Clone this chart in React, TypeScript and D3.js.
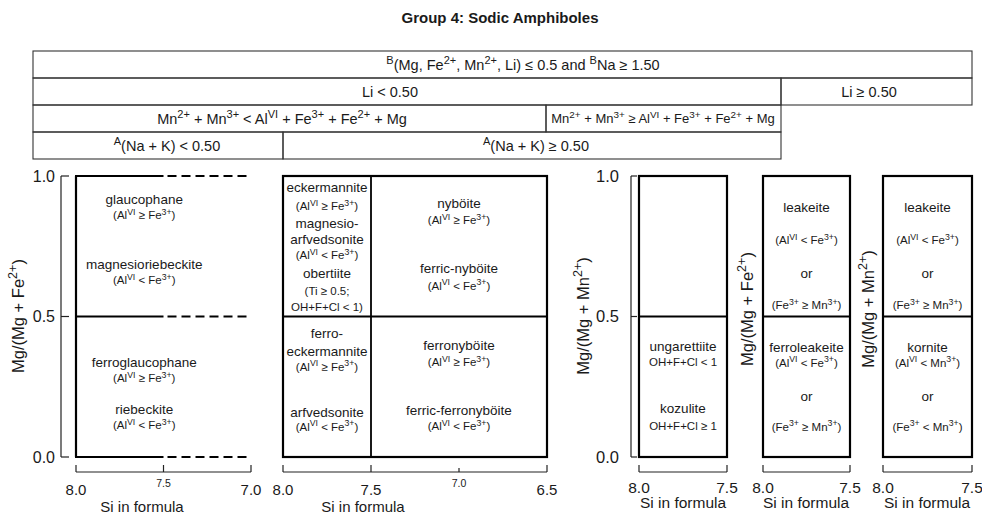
import React, { useEffect, useRef } from 'react';
import * as d3 from 'd3';

const title = 'Group 4: Sodic Amphiboles';

// classification conditions, one list per header row
const headerRow1 = ['^{B}(Mg, Fe^{2+}, Mn^{2+}, Li) ≤ 0.5 and ^{B}Na ≥ 1.50'];
const headerRow2 = ['Li < 0.50', 'Li ≥ 0.50'];
const headerRow3 = [
  'Mn^{2+} + Mn^{3+} < Al^{VI} + Fe^{3+} + Fe^{2+} + Mg',
  'Mn^{2+} + Mn^{3+} ≥ Al^{VI} + Fe^{3+} + Fe^{2+} + Mg',
];
const headerRow4 = ['^{A}(Na + K) < 0.50', '^{A}(Na + K) ≥ 0.50'];

// panels
const yTicks = [0.0, 0.5, 1.0];
const siDomains = [[8.0, 7.0], [8.0, 6.5], [8.0, 7.5], [8.0, 7.5], [8.0, 7.5]];
const siTicks = [[8.0, 7.5, 7.0], [8.0, 7.5, 7.0, 6.5], [8.0, 7.5], [8.0, 7.5], [8.0, 7.5]];
const siMinorTicks = [[7.5], [7.0], [], [], []];
const yTitles = ['Mg/(Mg + Fe^{2+})', '', 'Mg/(Mg + Mn^{2+})', 'Mg/(Mg + Fe^{2+})', 'Mg/(Mg + Mn^{2+})'];
const hasYAxis = [true, false, true, false, false];
const xTitle = 'Si in formula';
const splitSi = [[], [7.5], [], [], []];
const splitRatio = [0.5];
const openFromSi = 7.5; // panel 1 field stays open (dashed) past this Si

type Label = [number, number, string];

const panel1Labels: Label[] = [
  [7.61, 0.918, 'glaucophane'],
  [7.61, 0.861, '(Al^{VI} ≥ Fe^{3+})'],
  [7.61, 0.687, 'magnesioriebeckite'],
  [7.61, 0.63, '(Al^{VI} < Fe^{3+})'],
  [7.61, 0.338, 'ferroglaucophane'],
  [7.61, 0.281, '(Al^{VI} ≥ Fe^{3+})'],
  [7.61, 0.171, 'riebeckite'],
  [7.61, 0.114, '(Al^{VI} < Fe^{3+})'],
];

const panel2Labels: Label[] = [
  [7.75, 0.961, 'eckermannite'],
  [7.75, 0.893, '(Al^{VI} ≥ Fe^{3+})'],
  [7.75, 0.833, 'magnesio-'],
  [7.75, 0.776, 'arfvedsonite'],
  [7.75, 0.719, '(Al^{VI} < Fe^{3+})'],
  [7.75, 0.655, 'obertiite'],
  [7.75, 0.591, '(Ti ≥ 0.5;'],
  [7.75, 0.534, 'OH+F+Cl < 1)'],
  [7.75, 0.441, 'ferro-'],
  [7.75, 0.377, 'eckermannite'],
  [7.75, 0.322, '(Al^{VI} ≥ Fe^{3+})'],
  [7.75, 0.16, 'arfvedsonite'],
  [7.75, 0.107, '(Al^{VI} < Fe^{3+})'],
  [7.0, 0.904, 'nyböite'],
  [7.0, 0.843, '(Al^{VI} ≥ Fe^{3+})'],
  [7.0, 0.673, 'ferric-nyböite'],
  [7.0, 0.609, '(Al^{VI} < Fe^{3+})'],
  [7.0, 0.399, 'ferronyböite'],
  [7.0, 0.338, '(Al^{VI} ≥ Fe^{3+})'],
  [7.0, 0.167, 'ferric-ferronyböite'],
  [7.0, 0.11, '(Al^{VI} < Fe^{3+})'],
];

const panel3Labels: Label[] = [
  [7.75, 0.395, 'ungarettiite'],
  [7.75, 0.338, 'OH+F+Cl < 1'],
  [7.75, 0.174, 'kozulite'],
  [7.75, 0.11, 'OH+F+Cl ≥ 1'],
];

const panel4Labels: Label[] = [
  [7.75, 0.89, 'leakeite'],
  [7.75, 0.772, '(Al^{VI} < Fe^{3+})'],
  [7.75, 0.655, 'or'],
  [7.75, 0.541, '(Fe^{3+} ≥ Mn^{3+})'],
  [7.75, 0.391, 'ferroleakeite'],
  [7.75, 0.335, '(Al^{VI} < Fe^{3+})'],
  [7.75, 0.217, 'or'],
  [7.75, 0.107, '(Fe^{3+} ≥ Mn^{3+})'],
];

const panel5Labels: Label[] = [
  [7.75, 0.89, 'leakeite'],
  [7.75, 0.772, '(Al^{VI} < Fe^{3+})'],
  [7.75, 0.655, 'or'],
  [7.75, 0.541, '(Fe^{3+} ≥ Mn^{3+})'],
  [7.75, 0.391, 'kornite'],
  [7.75, 0.335, '(Al^{VI} < Mn^{3+})'],
  [7.75, 0.217, 'or'],
  [7.75, 0.107, '(Fe^{3+} <  Mn^{3+})'],
];

const panelLabels = [panel1Labels, panel2Labels, panel3Labels, panel4Labels, panel5Labels];

// layout
const FONT = '"Liberation Sans", Arial, Helvetica, sans-serif';
const INK = '#1a1a1a';
const headerRowY = [51, 78, 105, 132, 159];
const headerCellX = [[[33, 972]], [[33, 781], [781, 972]], [[33, 546], [546, 781]], [[33, 283], [283, 781]]];
const headerTextX = [[523], [390, 869], [282, 663], [167, 536]];
const headerFont = [[14.5], [14.5, 14.5], [14.5, 13], [14.5, 14.5]];
const panelX = [[76, 251], [283, 547], [639, 727], [763, 850], [883, 972]];
const yAxisX = [61, 0, 631, 0, 0];
const yTickLabelX = [55, 0, 619, 0, 0];
const yTitleX = [18, 0, 583, 747, 868];
const xTitleX = [142, 363, 683, 806, 927];
const axisFont = [15, 15, 15.5, 15.5, 15.5];
const xTickLabelY = [490, 490, 487, 487, 487];
const xTitleY = [506.5, 506.5, 502.5, 502.5, 502.5];
const bracketY = 472;

function rich(text: any, str: string, size: number) {
  const parts = str.split(/(\^\{[^}]*\})/).filter(Boolean);
  const shift = size * 0.4;
  let raised = false;
  parts.forEach((p) => {
    const sup = p.startsWith('^{');
    const t = text.append('tspan').text(sup ? p.slice(2, -1) : p);
    if (sup) {
      t.attr('font-size', size * 0.76);
      if (!raised) t.attr('dy', -shift);
      raised = true;
    } else {
      if (raised) t.attr('dy', shift);
      raised = false;
    }
  });
}

export default function App() {
  const svgRef = useRef<SVGSVGElement>(null);

  useEffect(() => {
    if (!svgRef.current) return;
    const svg = d3.select(svgRef.current);
    svg.selectAll('*').remove();
    svg.attr('font-family', FONT);

    svg.append('text')
      .attr('x', 500)
      .attr('y', 23)
      .attr('text-anchor', 'middle')
      .attr('font-size', 15)
      .attr('font-weight', 'bold')
      .attr('fill', INK)
      .text(title);

    // header table
    const header = [headerRow1, headerRow2, headerRow3, headerRow4];
    header.forEach((row, i) => {
      const y0 = headerRowY[i];
      const y1 = headerRowY[i + 1];
      row.forEach((cell, j) => {
        const [x0, x1] = headerCellX[i][j];
        svg.append('rect')
          .attr('x', x0).attr('y', y0)
          .attr('width', x1 - x0).attr('height', y1 - y0)
          .attr('fill', 'none').attr('stroke', '#333').attr('stroke-width', 1.1);
        const fs = headerFont[i][j];
        const t = svg.append('text')
          .attr('x', headerTextX[i][j])
          .attr('y', (y0 + y1) / 2 + fs * 0.36)
          .attr('text-anchor', 'middle')
          .attr('font-size', fs)
          .attr('fill', INK);
        rich(t, cell, fs);
      });
    });

    const y = d3.scaleLinear().domain([0, 1]).range([457, 176]);

    siDomains.forEach((dom, p) => {
      const x = d3.scaleLinear().domain(dom).range(panelX[p]);
      const g = svg.append('g');
      const fs = axisFont[p];

      // field boundaries
      if (p === 0) {
        g.append('line')
          .attr('x1', x(dom[0])).attr('x2', x(dom[0]))
          .attr('y1', y(0)).attr('y2', y(1))
          .attr('stroke', '#000').attr('stroke-width', 2.2);
        [0, ...splitRatio, 1].forEach((r) => {
          g.append('line')
            .attr('x1', x(dom[0]) - 1).attr('x2', x(openFromSi))
            .attr('y1', y(r)).attr('y2', y(r))
            .attr('stroke', '#000').attr('stroke-width', 2.2);
          g.append('line')
            .attr('x1', x(openFromSi) + 4).attr('x2', x(dom[1]))
            .attr('y1', y(r)).attr('y2', y(r))
            .attr('stroke', '#000').attr('stroke-width', 2.2)
            .attr('stroke-dasharray', '9,5');
        });
      } else {
        g.append('rect')
          .attr('x', x(dom[0])).attr('y', y(1))
          .attr('width', x(dom[1]) - x(dom[0])).attr('height', y(0) - y(1))
          .attr('fill', 'none').attr('stroke', '#000').attr('stroke-width', 2.2);
        splitRatio.forEach((r) => {
          g.append('line')
            .attr('x1', x(dom[0])).attr('x2', x(dom[1]))
            .attr('y1', y(r)).attr('y2', y(r))
            .attr('stroke', '#000').attr('stroke-width', 1.8);
        });
        splitSi[p].forEach((s) => {
          g.append('line')
            .attr('x1', x(s)).attr('x2', x(s))
            .attr('y1', y(0)).attr('y2', y(1))
            .attr('stroke', '#000').attr('stroke-width', 1.8);
        });
      }

      // field labels
      panelLabels[p].forEach(([si, r, txt]) => {
        const note = /^(\(|OH)/.test(txt);
        const size = note ? 11.5 : 13.5;
        const t = g.append('text')
          .attr('x', x(si))
          .attr('y', y(r) + size * 0.36)
          .attr('text-anchor', 'middle')
          .attr('font-size', size)
          .attr('fill', INK);
        rich(t, txt, size);
      });

      // Si bracket axis
      g.append('line')
        .attr('x1', x(dom[0])).attr('x2', x(dom[1]))
        .attr('y1', bracketY).attr('y2', bracketY)
        .attr('stroke', '#222').attr('stroke-width', 1.2);
      siTicks[p].forEach((s) => {
        const minor = siMinorTicks[p].includes(s);
        g.append('line')
          .attr('x1', x(s)).attr('x2', x(s))
          .attr('y1', bracketY).attr('y2', bracketY - (minor && p === 1 ? 4 : 7))
          .attr('stroke', '#222').attr('stroke-width', 1.2);
        g.append('text')
          .attr('x', x(s))
          .attr('y', minor ? xTickLabelY[p] - 3 : xTickLabelY[p] + fs * 0.36)
          .attr('text-anchor', 'middle')
          .attr('font-size', minor ? 10.5 : fs)
          .attr('fill', INK)
          .text(s.toFixed(1));
      });
      g.append('text')
        .attr('x', xTitleX[p])
        .attr('y', xTitleY[p] + fs * 0.36)
        .attr('text-anchor', 'middle')
        .attr('font-size', fs)
        .attr('fill', INK)
        .text(xTitle);

      // ratio bracket axis
      if (hasYAxis[p]) {
        const ax = yAxisX[p];
        g.append('line')
          .attr('x1', ax).attr('x2', ax)
          .attr('y1', y(0)).attr('y2', y(1))
          .attr('stroke', '#222').attr('stroke-width', 1.2);
        yTicks.forEach((r) => {
          g.append('line')
            .attr('x1', ax).attr('x2', ax + (p === 0 ? 8 : 6))
            .attr('y1', y(r)).attr('y2', y(r))
            .attr('stroke', '#222').attr('stroke-width', 1.2);
          g.append('text')
            .attr('x', yTickLabelX[p])
            .attr('y', y(r) + (fs + 1) * 0.36)
            .attr('text-anchor', 'end')
            .attr('font-size', fs + 1)
            .attr('fill', INK)
            .text(r.toFixed(1));
        });
      }
      if (yTitles[p]) {
        const ty = p >= 3 ? 309 : 316;
        const t = g.append('text')
          .attr('transform', `translate(${yTitleX[p]},${ty}) rotate(-90)`)
          .attr('y', 6)
          .attr('text-anchor', 'middle')
          .attr('font-size', 16.5)
          .attr('fill', INK);
        rich(t, yTitles[p], 16.5);
      }
    });
  }, []);

  return (
    <svg
      ref={svgRef}
      width={982}
      height={514}
      style={{ position: 'absolute', left: 0, top: 0, background: '#fff' }}
    />
  );
}
